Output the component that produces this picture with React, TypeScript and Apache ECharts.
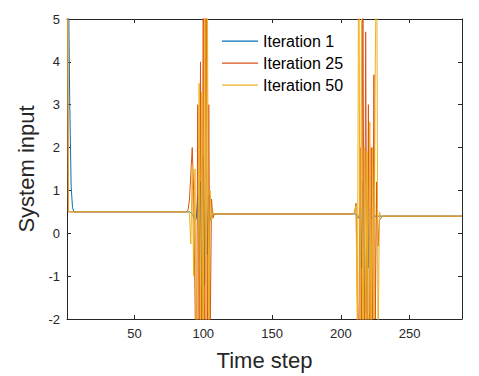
import React, { useEffect, useRef } from "react";
import * as echarts from "echarts";

const seriesNames = ["Iteration 1", "Iteration 25", "Iteration 50"];
const seriesColors = ["#0072BD", "#D95319", "#EDB120"];

const iteration1: [number, number][] = [
  [1, 8], [2, 6], [3, 3.0], [4, 1.1], [5, 0.6], [6, 0.5], [88, 0.5], [89, 0.5], [90, 0.5],
  [91, 0.48], [92, 0.45], [93, 0.4], [94, 0.3], [95, 0.35], [96, 0.9], [97, -0.6], [98, 1.2],
  [99, -1.8], [100, 1.8], [101, -1.2], [102, 1.5], [103, -0.5], [104, 0.9], [105, 0.3],
  [106, 0.35], [107, 0.42], [108, 0.45], [210, 0.45], [211, 0.44], [212, 0.4], [213, 0.35],
  [214, 0.6], [215, -0.8], [216, 1.2], [217, -1.2], [218, -1.85], [219, 0.8], [220, -0.8],
  [221, 0.6], [222, 0.35], [223, 0.38], [224, 0.4], [288, 0.4],
];

const iteration25: [number, number][] = [
  [1, 10], [2, 0.5], [88, 0.5], [89, 0.55], [90, 0.8], [91, 1.4], [92, 2.0], [93, 1.0],
  [94, -1.5], [95, -4], [96, 3], [97, -3], [98, 4], [99, -4], [100, 6], [101, -5], [102, 8],
  [103, -3], [104, 3], [105, -2.5], [106, 0.8], [107, 0.35], [108, 0.45], [209, 0.45],
  [210, 0.5], [211, 0.7], [212, -1.5], [213, -3], [214, 2], [215, -3], [216, 6], [217, -4],
  [218, 4.7], [219, -3], [220, 3.0], [221, -4], [222, 2.0], [223, -3], [224, 3.7], [225, -2],
  [226, 1.2], [227, -0.3], [228, 0.3], [229, 0.35], [230, 0.4], [288, 0.4],
];

const iteration50: [number, number][] = [
  [1, 10], [2, 0.5], [88, 0.5], [89, 0.5], [90, 0.45], [91, -0.25], [92, 1.6], [93, -1],
  [94, 1.5], [95, -3], [96, -2], [97, 3.5], [98, -3], [99, 3.3], [100, -4], [101, 7],
  [102, -2.5], [103, 6], [104, -3], [105, 1], [106, 0.3], [107, 0.5], [108, 0.45], [209, 0.45],
  [210, 0.5], [211, 0.65], [212, -2.5], [213, 8], [214, -3], [215, 5], [216, -4], [217, 2],
  [218, -3], [219, 1.9], [220, -4], [221, 2.6], [222, -3], [223, 2], [224, -2], [225, 4],
  [226, 7], [227, -3], [228, 0.5], [229, 0.4], [288, 0.4],
];

const seriesData = [iteration1, iteration25, iteration50];

const X_MIN = 1;
const X_MAX = 288;
const Y_MIN = -2;
const Y_MAX = 5;

const FONT = "'Liberation Sans', Arial, Helvetica, sans-serif";
const AX = "#262626";
const LEGEND_ICON = "path://M0,0 L0,0 M0,6.5 L36,6.5 L36,7.8 L0,7.8 Z M36,14 L36,14";

export default function App() {
  const ref = useRef<HTMLDivElement>(null);
  useEffect(() => {
    if (!ref.current) return;
    const chart = echarts.init(ref.current, undefined, { renderer: "svg" });
    const tick = { show: true, inside: true, length: 4, lineStyle: { color: AX, width: 1 } };
    const line = { show: true, onZero: false, lineStyle: { color: AX, width: 1 } };
    chart.setOption({
      animation: false,
      backgroundColor: "#fff",
      textStyle: { fontFamily: FONT },
      grid: { left: 67, right: 17, top: 19, bottom: 57, containLabel: false },
      legend: {
        orient: "vertical",
        left: 217,
        top: 28,
        itemWidth: 36,
        itemHeight: 14,
        itemGap: 6,
        icon: LEGEND_ICON,
        textStyle: { fontFamily: FONT, fontSize: 16, color: "#000" },
        data: seriesNames,
      },
      xAxis: [
        {
          type: "value",
          min: X_MIN,
          max: X_MAX,
          position: "bottom",
          name: "Time step",
          nameLocation: "middle",
          nameGap: 30,
          nameTextStyle: { fontFamily: FONT, fontSize: 22, color: AX },
          axisLine: line,
          axisTick: tick,
          splitLine: { show: false },
          axisLabel: {
            fontFamily: FONT,
            fontSize: 13,
            color: AX,
            margin: 8,
            showMinLabel: false,
            showMaxLabel: false,
            formatter: (v: number) => (v % 50 === 0 ? String(v) : ""),
          },
        },
        {
          type: "value",
          min: X_MIN,
          max: X_MAX,
          position: "top",
          axisLine: line,
          axisTick: tick,
          splitLine: { show: false },
          axisLabel: { show: false },
        },
      ],
      yAxis: [
        {
          type: "value",
          min: Y_MIN,
          max: Y_MAX,
          interval: 1,
          position: "left",
          name: "System input",
          nameLocation: "middle",
          nameGap: 24,
          nameTextStyle: { fontFamily: FONT, fontSize: 22, color: AX },
          axisLine: line,
          axisTick: tick,
          splitLine: { show: false },
          axisLabel: { fontFamily: FONT, fontSize: 13, color: AX, margin: 7 },
        },
        {
          type: "value",
          min: Y_MIN,
          max: Y_MAX,
          interval: 1,
          position: "right",
          axisLine: line,
          axisTick: tick,
          splitLine: { show: false },
          axisLabel: { show: false },
        },
      ],
      series: seriesNames.map((name, i) => ({
        name,
        type: "line",
        xAxisIndex: 0,
        yAxisIndex: 0,
        data: seriesData[i],
        symbol: "none",
        showSymbol: false,
        clip: true,
        color: seriesColors[i],
        lineStyle: { color: seriesColors[i], width: 1 },
      })),
    });
    return () => chart.dispose();
  }, []);
  return <div ref={ref} style={{ width: 479, height: 376, position: "absolute", left: 0, top: 0 }} />;
}
